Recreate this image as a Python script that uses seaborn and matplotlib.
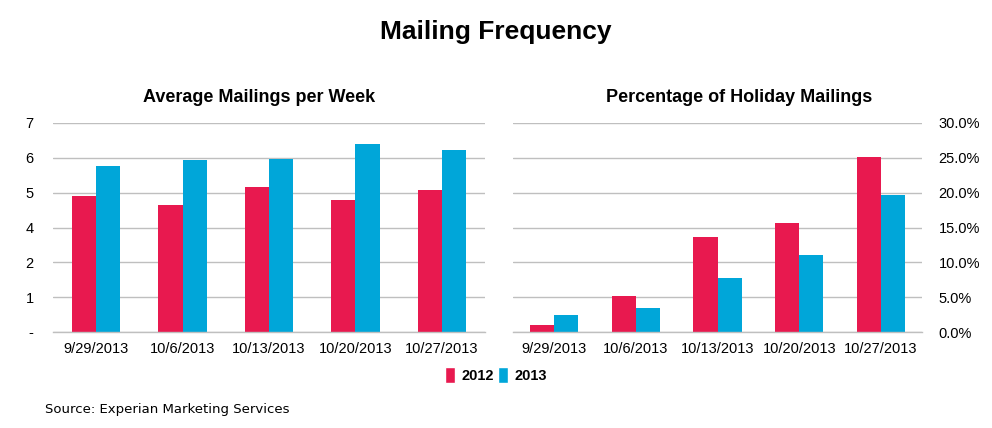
import matplotlib
matplotlib.use("Agg")
import matplotlib.pyplot as plt
import numpy as np
import pandas as pd
import seaborn as sns
from matplotlib.patches import Patch
from matplotlib.ticker import FuncFormatter, FixedLocator

# values
weeks = ["9/29/2013", "10/6/2013", "10/13/2013", "10/20/2013", "10/27/2013"]
years = ["2012", "2013"]
avg_2012 = [4.56, 4.24, 4.86, 4.43, 4.76]
avg_2013 = [5.57, 5.77, 5.80, 6.29, 6.11]
pct_2012 = [1.0, 5.2, 13.6, 15.6, 25.1]
pct_2013 = [2.5, 3.4, 7.7, 11.0, 19.6]

palette = {"2012": "#E8194F", "2013": "#00A6D9"}
grid_col = "#BFBFBF"


def long_df(a, b):
    return pd.DataFrame({
        "week": weeks * 2,
        "year": [years[0]] * len(weeks) + [years[1]] * len(weeks),
        "value": a + b,
    })


sns.set_style("white")
plt.rcParams["font.family"] = ["Liberation Sans", "DejaVu Sans"]
plt.rcParams["text.color"] = "black"
plt.rcParams["xtick.color"] = "black"
plt.rcParams["ytick.color"] = "black"

fig = plt.figure(figsize=(9.92, 4.28), dpi=100)
ax1 = fig.add_axes([53 / 992, 1 - 332 / 428, 432 / 992, 209 / 428])
ax2 = fig.add_axes([513 / 992, 1 - 332 / 428, 409 / 992, 209 / 428])

sns.barplot(data=long_df(avg_2012, avg_2013), x="week", y="value", hue="year",
            palette=palette, width=0.56, ax=ax1, legend=False, saturation=1, linewidth=0)
sns.barplot(data=long_df(pct_2012, pct_2013), x="week", y="value", hue="year",
            palette=palette, width=0.59, ax=ax2, legend=False, saturation=1, linewidth=0)

for ax in (ax1, ax2):
    ax.set_xlabel(""); ax.set_ylabel("")
    ax.set_xlim(-0.5, len(weeks) - 0.5)
    for s in ("top", "left", "right"):
        ax.spines[s].set_visible(False)
    ax.spines["bottom"].set_color(grid_col)
    ax.spines["bottom"].set_linewidth(1)
    ax.grid(axis="y", color=grid_col, linewidth=1)
    ax.set_axisbelow(True)
    ax.xaxis.set_minor_locator(FixedLocator(np.arange(-0.5, len(weeks), 1.0)))
    ax.tick_params(axis="x", which="major", length=0, pad=7, labelsize=10.5, labelcolor="black")
    ax.tick_params(axis="x", which="minor", length=4, color=grid_col, width=1)
    ax.tick_params(axis="y", length=0, labelsize=10.5, labelcolor="black")

# left: Excel-style axis with 7/6 steps, zero shown as "-"
ax1.set_ylim(0, 7)
ax1.set_yticks(np.linspace(0, 7, 7))
ax1.yaxis.set_major_formatter(FuncFormatter(lambda v, p: "-" if v == 0 else f"{v:.0f}"))
ax1.tick_params(axis="y", pad=14)

ax2.set_ylim(0, 30)
ax2.set_yticks(np.arange(0, 31, 5))
ax2.yaxis.set_major_formatter(FuncFormatter(lambda v, p: f"{v:.1f}%"))
ax2.yaxis.tick_right()
ax2.tick_params(axis="y", pad=12)

fig.text(0.5, 1 - 32 / 428, "Mailing Frequency", ha="center", va="center",
         fontsize=19, fontweight="bold")
fig.text(259 / 992, 1 - 97 / 428, "Average Mailings per Week", ha="center", va="center",
         fontsize=13, fontweight="bold")
fig.text(739 / 992, 1 - 97 / 428, "Percentage of Holiday Mailings", ha="center", va="center",
         fontsize=13, fontweight="bold")

handles = [Patch(facecolor=palette[y], label=y) for y in years]
fig.legend(handles=handles, loc="center", bbox_to_anchor=(496 / 992, 1 - 375 / 428),
           ncol=2, frameon=False, handlelength=0.7, handleheight=1.3,
           handletextpad=0.4, columnspacing=0.3, prop={"weight": "bold", "size": 10.5})

fig.text(45 / 992, 1 - 409 / 428, "Source: Experian Marketing Services", ha="left",
         va="center", fontsize=9.5, family=["DejaVu Sans"])

fig.savefig("out.png", dpi=100)
